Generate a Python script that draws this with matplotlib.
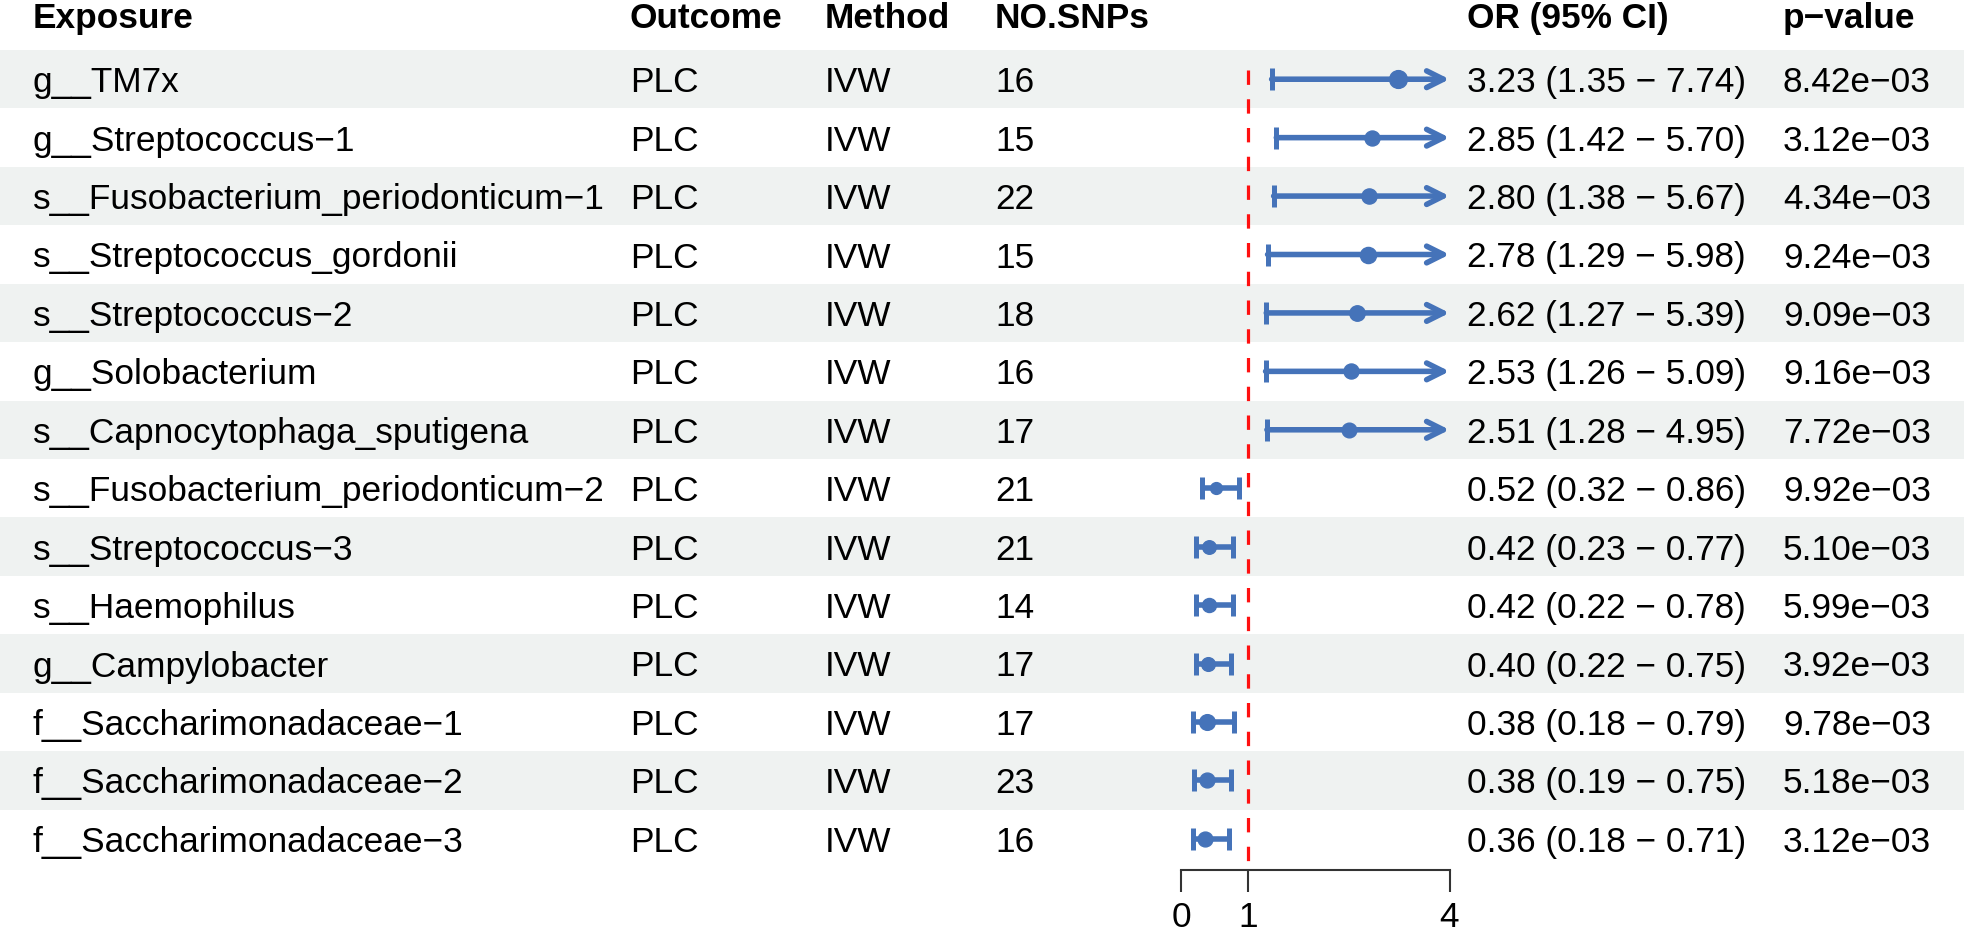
import numpy as np
import matplotlib
matplotlib.use("Agg")
import matplotlib.pyplot as plt

plt.rcParams['font.family'] = ['Liberation Sans', 'DejaVu Sans']

# ---------------- data ----------------
exposure = ["g__TM7x", "g__Streptococcus\u22121", "s__Fusobacterium_periodonticum\u22121",
            "s__Streptococcus_gordonii", "s__Streptococcus\u22122", "g__Solobacterium",
            "s__Capnocytophaga_sputigena", "s__Fusobacterium_periodonticum\u22122",
            "s__Streptococcus\u22123", "s__Haemophilus", "g__Campylobacter",
            "f__Saccharimonadaceae\u22121", "f__Saccharimonadaceae\u22122",
            "f__Saccharimonadaceae\u22123"]
outcome = ["PLC"] * 14
method = ["IVW"] * 14
n_snps = [16, 15, 22, 15, 18, 16, 17, 21, 21, 14, 17, 17, 23, 16]
or_val = [3.23, 2.85, 2.80, 2.78, 2.62, 2.53, 2.51, 0.52, 0.42, 0.42, 0.40, 0.38, 0.38, 0.36]
ci_low = [1.35, 1.42, 1.38, 1.29, 1.27, 1.26, 1.28, 0.32, 0.23, 0.22, 0.22, 0.18, 0.19, 0.18]
ci_up = [7.74, 5.70, 5.67, 5.98, 5.39, 5.09, 4.95, 0.86, 0.77, 0.78, 0.75, 0.79, 0.75, 0.71]
p_val = [8.42e-03, 3.12e-03, 4.34e-03, 9.24e-03, 9.09e-03, 9.16e-03, 7.72e-03,
         9.92e-03, 5.10e-03, 5.99e-03, 3.92e-03, 9.78e-03, 5.18e-03, 3.12e-03]
headers = ["Exposure", "Outcome", "Method", "NO.SNPs", "OR (95% CI)", "p\u2212value"]
x_ticks = [0, 1, 4]
x_max = 4

# ---------------- layout ----------------
W, H, DPI = 1964, 931, 100
FS = 25.4
blue = "#4573B9"
band = "#EFF2F1"
top_px = 50.0
n = len(exposure)
rh = 818.0 / n
col_x = [33, 630, 825, 995, 1467, 1783]
forest_l, forest_r, axis_y = 1181.0, 1449.5, 870.0

fig = plt.figure(figsize=(W / DPI, H / DPI), dpi=DPI)
tab = fig.add_axes([0, 0, 1, 1])
tab.set_xlim(0, W)
tab.set_ylim(H, 0)
tab.axis("off")

for i in range(n):
    if i % 2 == 0:
        tab.axhspan(top_px + i * rh, top_px + (i + 1) * rh, color=band, lw=0, zorder=0)

for x, h in zip(col_x, headers):
    tab.text(x, 28, h, fontsize=FS, fontweight="bold", va="baseline", ha="left")

def fmt_p(p):
    return ("%.2e" % p).replace("-", "\u2212")

for i in range(n):
    yb = top_px + (i + 0.5) * rh + 13
    row = [exposure[i], outcome[i], method[i], str(n_snps[i]),
           "%.2f (%.2f \u2212 %.2f)" % (or_val[i], ci_low[i], ci_up[i]), fmt_p(p_val[i])]
    for x, t in zip(col_x, row):
        tab.text(x, yb, t, fontsize=FS, va="baseline", ha="left")

# ---------------- forest panel ----------------
fx = fig.add_axes([forest_l / W, (H - axis_y) / H, (forest_r - forest_l) / W, (axis_y - top_px) / H])
fx.set_xlim(0, x_max)
fx.set_ylim(n + (axis_y - (top_px + n * rh)) / rh, 0)
fx.patch.set_alpha(0)
for s in ["top", "left", "right"]:
    fx.spines[s].set_visible(False)
fx.spines["bottom"].set_linewidth(1.5)
fx.spines["bottom"].set_color("#333333")
fx.set_yticks([])
fx.set_xticks(x_ticks)
fx.set_xticklabels([str(t) for t in x_ticks], fontsize=FS)
fx.tick_params(axis="x", direction="out", length=16, width=1.5, color="#333333", pad=6)

# reference line
fx.plot([1, 1], [0.34, fx.get_ylim()[0]], color="#FF1010", lw=2.3, ls=(0, (4.5, 4.5)),
        zorder=1, clip_on=False)

lw_ci = 4.0
for i in range(n):
    y = i + 0.5
    lo, up, est = ci_low[i], ci_up[i], or_val[i]
    se = (np.log(up) - np.log(lo)) / (2 * 1.96)
    d_px = 4 + 31 * se
    if up > x_max:
        fx.annotate("", xy=(x_max, y), xytext=(lo, y),
                    arrowprops=dict(arrowstyle="->,head_length=0.6,head_width=0.3",
                                    lw=lw_ci, color=blue, shrinkA=0, shrinkB=0,
                                    mutation_scale=20),
                    annotation_clip=False, zorder=3)
    else:
        fx.plot([lo, up], [y, y], color=blue, lw=lw_ci, solid_capstyle="butt",
                zorder=3, clip_on=False)
        fx.plot([up], [y], marker="|", ms=16, mew=3.6, color=blue, zorder=3, clip_on=False)
    fx.plot([lo], [y], marker="|", ms=16, mew=3.6, color=blue, zorder=3, clip_on=False)
    fx.plot([est], [y], marker="o", ms=d_px * 0.72, color=blue, mec=blue, zorder=4,
            clip_on=False)

fig.savefig("out.png", dpi=DPI)
